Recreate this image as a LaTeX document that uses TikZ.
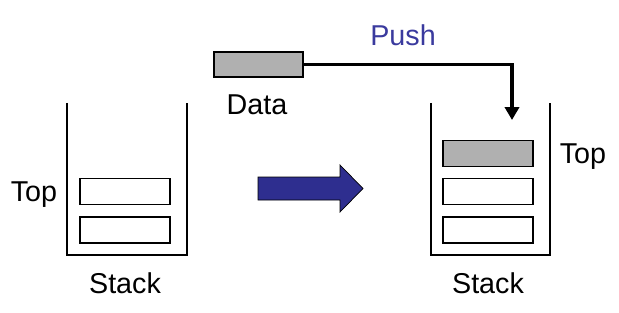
\documentclass[tikz,border=0pt]{standalone}
\usepackage{fontspec}
\setmainfont{Liberation Sans}
\usetikzlibrary{arrows.meta}
\definecolor{pushblue}{HTML}{3A3A9E}
\definecolor{arrowblue}{HTML}{2E2E8F}
\definecolor{slotgray}{HTML}{B0B0B0}
\begin{document}
\begin{tikzpicture}[x=0.03cm,y=-0.03cm,
  lbl/.style={font=\fontsize{24.5}{28}\selectfont, inner sep=0pt},
  slot/.style={draw, line width=0.9pt, minimum width=90*0.03cm, minimum height=26*0.03cm, inner sep=0pt},
  wall/.style={line width=1.3pt},
  pushline/.style={line width=3.4pt, -{Triangle[length=11pt,width=12pt]}}]
\useasboundingbox (0,0) rectangle (619,313);
% left stack
\draw[wall] (67,103) -- (67,255) -- (187,255) -- (187,103);
\node[slot] (l1) at (125,191.5) {};
\node[slot] (l2) at (125,230) {};
\node[lbl] (ltop) at (34,195) {Top};
\node[lbl] (lstack) at (125,283) {Stack};
% right stack
\draw[wall] (431,103) -- (431,255) -- (550,255) -- (550,103);
\node[slot, fill=slotgray] (r0) at (488,153.5) {};
\node[slot] (r1) at (488,191.5) {};
\node[slot] (r2) at (488,230) {};
\node[lbl] (rtop) at (583,157) {Top};
\node[lbl] (rstack) at (488,283) {Stack};
% incoming data
\node[slot, fill=slotgray, minimum width=89*0.03cm, minimum height=25*0.03cm] (data) at (258.5,64.5) {};
\node[lbl] (datalbl) at (257,105) {Data};
\node[lbl, text=pushblue] (push) at (403,35) {Push};
\coordinate (drop) at (512,120);
\draw[pushline] (data.east) -| (drop);
% transition arrow
\draw[fill=arrowblue, line width=0.6pt, line join=miter]
  (258,177) -- (340,177) -- (340,165) -- (363,188.5) -- (340,212) -- (340,200) -- (258,200) -- cycle;
\end{tikzpicture}
\end{document}
